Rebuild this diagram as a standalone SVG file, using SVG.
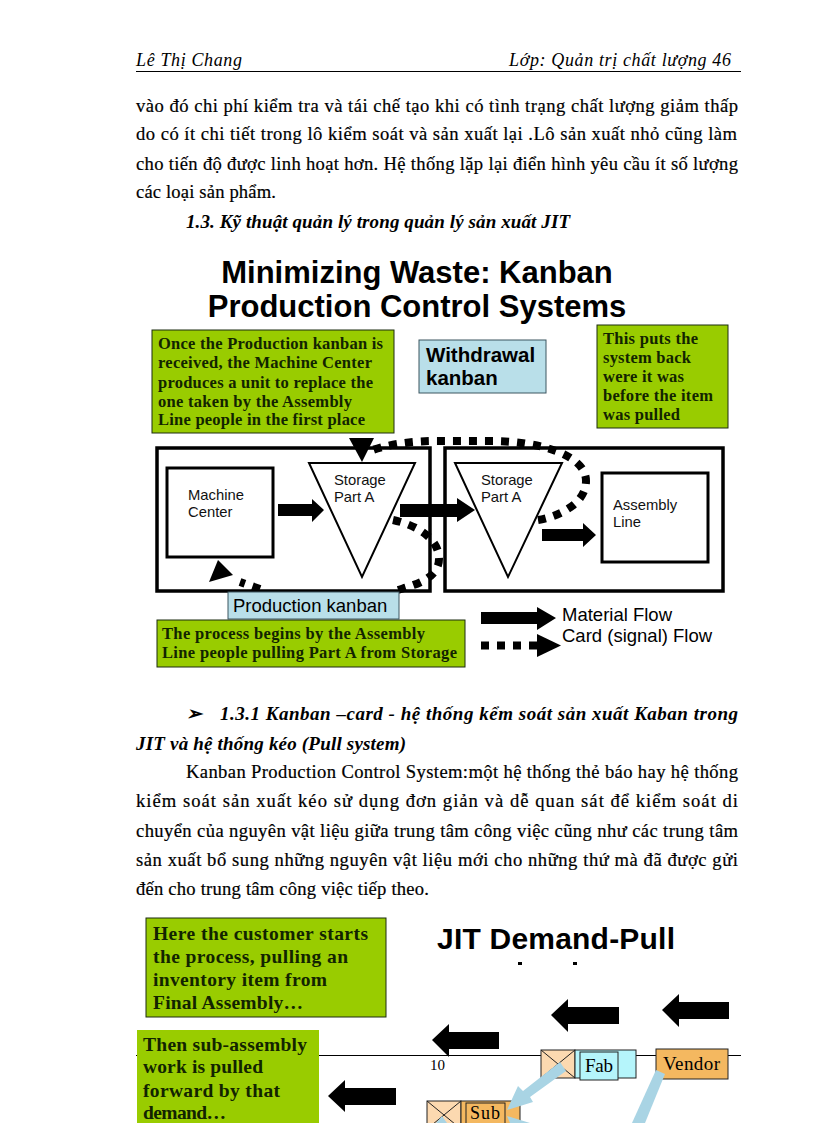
<svg xmlns="http://www.w3.org/2000/svg" width="816" height="1123" viewBox="0 0 816 1123">
<style>
text{fill:#000}
.p{font:18.6px "Liberation Serif",serif;stroke:#000;stroke-width:.2}
.h{font:italic bold 19px "Liberation Serif",serif}
.hd{font:italic 18px "Liberation Serif",serif}
.t{font:bold 31px "Liberation Sans",sans-serif}
.l{font:14.800px "Liberation Sans",sans-serif;fill:#111}
.lg{font:18.500px "Liberation Sans",sans-serif}
.g1{font:bold 16.500px "Liberation Serif",serif;fill:#122400}
.g2{font:bold 19.500px "Liberation Serif",serif;fill:#122400}
.k{font:bold 20.500px "Liberation Sans",sans-serif}
.pk{font:18.500px "Liberation Sans",sans-serif}
.box{font:19px "Liberation Serif",serif}
.green{fill:#99cc00;stroke:#1c2c10;stroke-width:1}
.blue{fill:#b9dfe9;stroke:#3c5660;stroke-width:1}
.frame{fill:#fff;stroke:#000;stroke-width:3.500}
.inner{fill:#fff;stroke:#000;stroke-width:3}
.tri{fill:#fff;stroke:#000;stroke-width:2}
.ln{stroke:#000;stroke-width:1;fill:none}
.dot{fill:none;stroke:#000;stroke-width:8;stroke-dasharray:8 8}
.pb{fill:#a9d4e4;stroke:none}
.bk{fill:#000}
</style>

<g id="page-text">
<text class="hd" x="136" y="66" textLength="106">Lê Thị Chang</text>
<text class="hd" x="509" y="66" textLength="222">Lớp: Quản trị chất lượng 46</text>
<line class="ln" x1="136" y1="71.500" x2="741" y2="71.500"/>
<text class="p" x="136" y="112" textLength="602">vào đó chi phí kiểm tra và tái chế tạo khi có tình trạng chất lượng giảm thấp</text>
<text class="p" x="136" y="140" textLength="601">do có ít chi tiết trong lô kiểm soát và sản xuất lại .Lô sản xuất nhỏ cũng làm</text>
<text class="p" x="136" y="170" textLength="602">cho tiến độ được linh hoạt hơn. Hệ thống lặp lại điển hình yêu cầu ít số lượng</text>
<text class="p" x="136" y="198" textLength="140">các loại sản phẩm.</text>
<text class="h" x="186" y="228" textLength="384">1.3. Kỹ thuật quản lý trong quản lý sản xuất JIT</text>
<text class="h" x="186" y="720">➢</text>
<text class="h" x="220" y="720" textLength="518">1.3.1 Kanban –card - hệ thống kểm soát sản xuất Kaban trong</text>
<text class="h" x="136" y="750" textLength="270">JIT và hệ thống kéo (Pull system)</text>
<text class="p" x="186" y="778" textLength="552">Kanban Production Control System:một hệ thống thẻ báo hay hệ thống</text>
<text class="p" x="136" y="807" textLength="602">kiểm soát sản xuất kéo sử dụng đơn giản và dễ quan sát để kiểm soát di</text>
<text class="p" x="136" y="837" textLength="602">chuyển của nguyên vật liệu giữa trung tâm công việc cũng như các trung tâm</text>
<text class="p" x="136" y="866" textLength="602">sản xuất bổ sung những nguyên vật liệu mới cho những thứ mà đã được gửi</text>
<text class="p" x="136" y="895" textLength="293">đến cho trung tâm công việc tiếp theo.</text>
<line class="ln" x1="136" y1="1055.500" x2="741" y2="1055.500"/>
<text class="p" x="430" y="1070" style="font-size:15px;stroke:none">10</text>
</g>

<g id="kanban-title">
<text class="t" x="417" y="283" text-anchor="middle">Minimizing Waste: Kanban</text>
<text class="t" x="417" y="317" text-anchor="middle">Production Control Systems</text>
</g>

<g id="left-cell"><rect class="frame" x="157" y="448" width="273" height="143"/></g>
<g id="right-cell"><rect class="frame" x="445" y="448" width="278" height="143"/></g>
<g id="machine-center"><rect class="inner" x="167" y="468" width="106" height="89"/>
<text class="l" x="188" y="500">Machine</text><text class="l" x="188" y="517">Center</text></g>
<g id="storage-a-left"><polygon class="tri" points="309,463 415,463 362,577"/>
<text class="l" x="334" y="485">Storage</text><text class="l" x="334" y="502">Part A</text></g>
<g id="storage-a-right"><polygon class="tri" points="455,463 562,463 508,577"/>
<text class="l" x="481" y="485">Storage</text><text class="l" x="481" y="502">Part A</text></g>
<g id="assembly-line"><rect class="inner" x="602" y="473" width="106" height="89"/>
<text class="l" x="613" y="510">Assembly</text><text class="l" x="613" y="527">Line</text></g>

<g id="connectors">
<polygon class="bk" points="278,504 312,504 312,499 324,510 312,522 312,516 278,516"/>
<polygon class="bk" points="400,504 457,504 457,498 475,510 457,522 457,517 400,517"/>
<polygon class="bk" points="542,529 583,529 583,523 596,535 583,547 583,541 542,541"/>
<path class="dot" d="M538,520 C556,517 586,505 586,481 C586,455 540,441 490,441 L437,441 C410,441 385,445 370,451"/>
<polygon class="bk" points="349,438 374,438 362,462"/>
<path class="dot" d="M393,520 C420,526 439,540 439,559 C439,580 410,586 398,590"/>
<path class="dot" d="M260,589 L240,582"/>
<polygon class="bk" points="218,560 209,582 233,575"/>
<polygon class="bk" points="481,612 537,612 537,607 556,618 537,630 537,624 481,624"/>
<path class="dot" d="M481,645.500 L537,645.500"/>
<polygon class="bk" points="537,634 561,645.500 537,657"/>
</g>

<g id="note-production"><rect class="green" x="152" y="330" width="242" height="103"/>
<text class="g1" x="158" y="349" textLength="225">Once the Production kanban is</text>
<text class="g1" x="158" y="368" textLength="214">received, the Machine Center</text>
<text class="g1" x="158" y="388" textLength="215">produces a unit to replace the</text>
<text class="g1" x="158" y="407" textLength="194">one taken by the Assembly</text>
<text class="g1" x="158" y="425" textLength="207">Line people in the first place</text></g>
<g id="withdrawal-kanban"><rect class="blue" x="419" y="340" width="127" height="53"/>
<text class="k" x="426" y="362">Withdrawal</text><text class="k" x="426" y="385">kanban</text></g>
<g id="note-system"><rect class="green" x="597" y="325" width="131" height="103"/>
<text class="g1" x="603" y="344" textLength="95">This puts the</text>
<text class="g1" x="603" y="363" textLength="88">system back</text>
<text class="g1" x="603" y="382" textLength="81">were it was</text>
<text class="g1" x="603" y="401" textLength="110">before the item</text>
<text class="g1" x="603" y="420" textLength="77">was pulled</text></g>
<g id="production-kanban"><rect class="blue" x="228" y="592" width="171" height="27"/>
<text class="pk" x="233" y="612">Production kanban</text></g>
<g id="note-process"><rect class="green" x="157" y="620" width="308" height="47"/>
<text class="g1" x="162" y="639" textLength="263">The process begins by the Assembly</text>
<text class="g1" x="162" y="658" textLength="295">Line people pulling Part A from Storage</text></g>
<g id="legend">
<text class="lg" x="562" y="621">Material Flow</text>
<text class="lg" x="562" y="642">Card (signal) Flow</text>
</g>

<g id="jit-title">
<text class="t" x="437" y="949" textLength="238" style="font-size:30px">JIT Demand-Pull</text>
<rect class="bk" x="518" y="962" width="4" height="3"/><rect class="bk" x="573" y="962" width="4" height="3"/>
</g>
<g id="note-customer"><rect class="green" x="146" y="918" width="240" height="99"/>
<text class="g2" x="153" y="940" textLength="215">Here the customer starts</text>
<text class="g2" x="153" y="963" textLength="195">the process, pulling an</text>
<text class="g2" x="153" y="986" textLength="174">inventory item from</text>
<text class="g2" x="153" y="1009" textLength="150">Final Assembly…</text></g>
<g id="note-subassembly"><rect x="137" y="1030" width="182" height="93" fill="#99cc00"/>
<text class="g2" x="143" y="1051" textLength="164">Then sub-assembly</text>
<text class="g2" x="143" y="1073" textLength="120">work is pulled</text>
<text class="g2" x="143" y="1097" textLength="137">forward by that</text>
<text class="g2" x="143" y="1119" textLength="83">demand…</text></g>

<g id="fab"><rect x="541" y="1050" width="34" height="28" fill="#fcd9b0" stroke="#222"/>
<path d="M541,1050 L575,1078 M575,1050 L541,1078" stroke="#222" fill="none"/>
<rect x="575" y="1050" width="61" height="28" fill="#b5f5fb" stroke="#222"/>
<rect x="580" y="1052" width="38" height="28" fill="#b5f5fb" stroke="#222"/>
<text class="box" x="585" y="1072" textLength="28">Fab</text></g>
<g id="vendor"><rect x="656" y="1049" width="72" height="30" fill="#f4b860" stroke="#222"/>
<text class="box" x="663" y="1070" textLength="57">Vendor</text></g>
<g id="sub"><rect x="427" y="1101" width="34" height="24" fill="#fcd9b0" stroke="#222"/>
<path d="M427,1101 L461,1129 M461,1101 L427,1129" stroke="#222" fill="none"/>
<rect x="461" y="1101" width="59" height="24" fill="#f4b860" stroke="#222"/>
<rect x="466" y="1103" width="39" height="24" fill="#f4b860" stroke="#222"/>
<text class="box" x="470" y="1119" textLength="30" style="font-size:18px">Sub</text></g>

<g id="jit-connectors">
<polygon class="bk" points="396,1088 345,1088 345,1080 328,1096 345,1112 345,1105 396,1105"/>
<polygon class="bk" points="499,1032 449,1032 449,1024 432,1040 449,1057 449,1049 499,1049"/>
<polygon class="bk" points="619,1007 568,1007 568,999 551,1015 568,1032 568,1024 619,1024"/>
<polygon class="bk" points="729,1002 679,1002 679,994 662,1010 679,1027 679,1019 729,1019"/>
<polygon class="pb" points="560,1062 566,1071 530,1097 533,1102 507,1110 518,1086 523,1091"/>
<polygon class="pb" points="656,1070 665,1074 645,1123 632,1123"/>
<polygon class="pb" points="507,1116 530,1123 510,1123"/>
<polygon class="pb" points="436,1123 442,1116 447,1123"/>
</g>
</svg>
